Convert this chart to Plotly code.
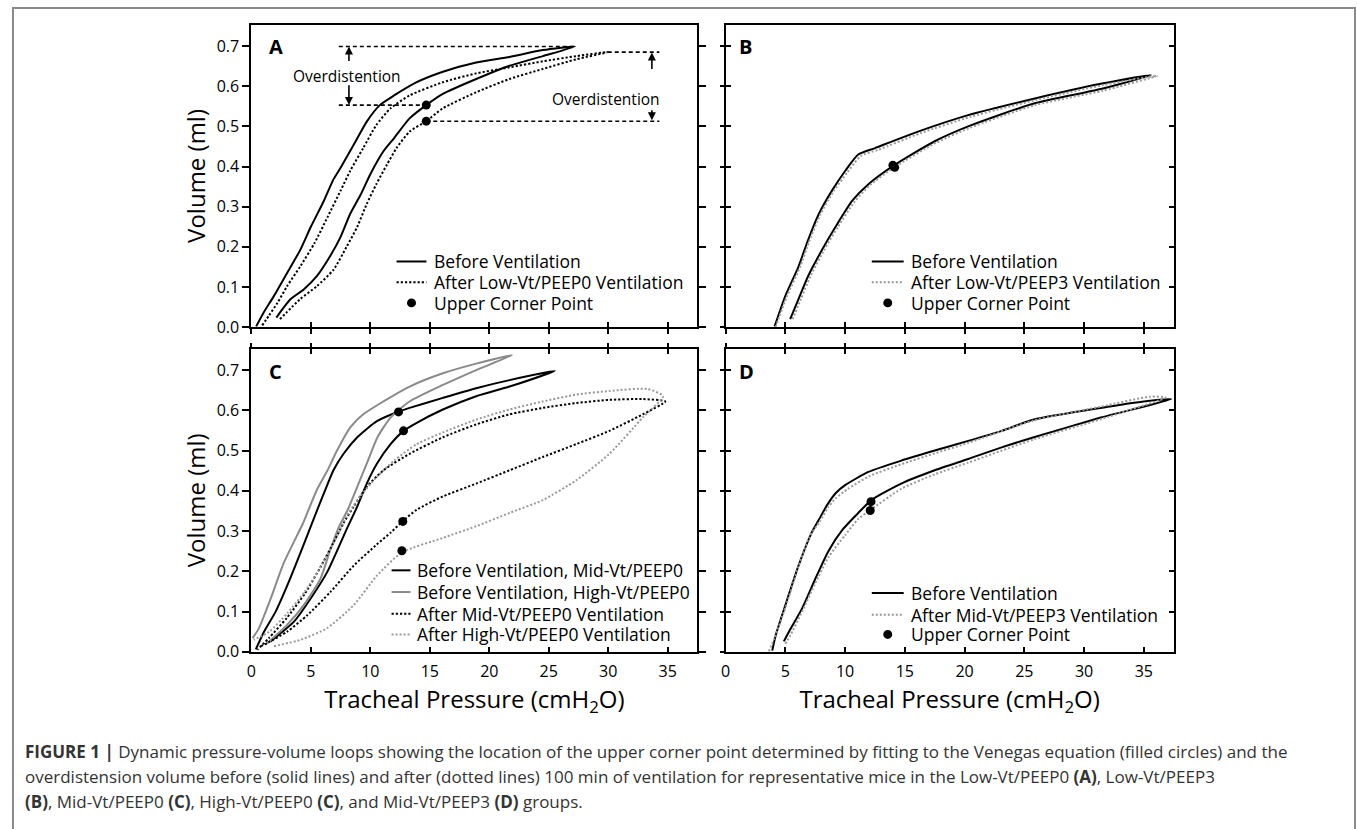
import plotly.graph_objects as go

W, H = 1357, 829

# ---------------- Panel A (Low-Vt/PEEP0) ----------------
a_before_insp_p = [2.1, 3.3, 4.4, 5.5, 6.6, 7.5, 8.3, 9.2, 10.0, 11.1, 12.0, 13.3, 14.7, 16.1, 18.9, 21.7, 24.5, 27.2]
a_before_insp_v = [0.024, 0.070, 0.094, 0.127, 0.176, 0.225, 0.282, 0.331, 0.381, 0.438, 0.471, 0.520, 0.553, 0.581, 0.618, 0.651, 0.675, 0.699]
a_before_exp_p = [27.2, 24.5, 21.7, 18.9, 16.1, 13.9, 12.0, 10.8, 9.7, 8.6, 7.5, 6.9, 6.1, 5.0, 4.1, 3.0, 1.9, 1.0, 0.4]
a_before_exp_v = [0.699, 0.690, 0.673, 0.659, 0.636, 0.610, 0.577, 0.553, 0.512, 0.454, 0.397, 0.368, 0.315, 0.250, 0.192, 0.135, 0.078, 0.035, 0.002]
a_after_insp_p = [2.4, 4.1, 5.5, 6.9, 8.0, 8.9, 9.7, 10.5, 11.4, 12.2, 13.3, 14.7, 16.1, 18.9, 21.7, 24.5, 27.3, 29.96]
a_after_insp_v = [0.020, 0.070, 0.102, 0.143, 0.200, 0.250, 0.307, 0.356, 0.405, 0.446, 0.487, 0.513, 0.545, 0.585, 0.618, 0.643, 0.667, 0.685]
a_after_exp_p = [29.96, 27.3, 24.5, 21.7, 18.9, 16.1, 13.3, 11.7, 10.5, 9.4, 8.3, 7.5, 6.4, 5.3, 4.1, 3.0, 2.2, 1.5, 0.9]
a_after_exp_v = [0.685, 0.675, 0.662, 0.647, 0.632, 0.610, 0.577, 0.545, 0.503, 0.446, 0.389, 0.340, 0.274, 0.209, 0.151, 0.102, 0.061, 0.030, 0.004]
a_ucp_p = [14.7, 14.7]
a_ucp_v = [0.553, 0.513]
# overdistention guide lines
a_od_left_top_p = [7.35, 27.2]
a_od_left_top_v = [0.699, 0.699]
a_od_left_bot_p = [7.35, 14.7]
a_od_left_bot_v = [0.553, 0.553]
a_od_right_top_p = [29.96, 34.3]
a_od_right_top_v = [0.685, 0.685]
a_od_right_bot_p = [14.7, 34.3]
a_od_right_bot_v = [0.513, 0.513]

# ---------------- Panel B (Low-Vt/PEEP3) ----------------
b_before_insp_p = [5.4, 6.1, 6.9, 8.06, 9.2, 10.6, 11.95, 14.0, 17.5, 20.3, 25.8, 31.4, 35.6]
b_before_insp_v = [0.020, 0.070, 0.127, 0.192, 0.250, 0.315, 0.356, 0.401, 0.463, 0.500, 0.557, 0.593, 0.628]
b_before_exp_p = [35.6, 31.4, 25.8, 20.3, 16.1, 12.5, 11.1, 10.0, 8.9, 7.8, 6.9, 6.1, 5.0, 4.1]
b_before_exp_v = [0.628, 0.606, 0.569, 0.528, 0.487, 0.446, 0.430, 0.389, 0.340, 0.282, 0.217, 0.151, 0.078, 0.002]
b_after_insp_p = [5.6, 6.3, 7.1, 8.2, 9.4, 10.8, 12.1, 14.1, 17.6, 20.4, 25.9, 31.6, 36.1]
b_after_insp_v = [0.020, 0.070, 0.127, 0.190, 0.250, 0.313, 0.354, 0.398, 0.459, 0.496, 0.553, 0.589, 0.626]
b_after_exp_p = [36.1, 31.6, 26.0, 20.5, 16.3, 12.8, 11.3, 10.2, 9.0, 7.9, 7.0, 6.2, 5.1, 4.2]
b_after_exp_v = [0.626, 0.603, 0.566, 0.524, 0.483, 0.442, 0.426, 0.386, 0.337, 0.279, 0.214, 0.148, 0.075, 0.002]
b_ucp_p = [14.0, 14.15]
b_ucp_v = [0.403, 0.398]

# ---------------- Panel C (Mid-Vt/PEEP0, High-Vt/PEEP0) ----------------
c_mid_before_insp_p = [1.62, 3.58, 4.97, 6.37, 7.2, 8.0, 8.9, 9.7, 10.55, 11.7, 12.8, 13.9, 16.1, 18.9, 21.7, 25.5]
c_mid_before_insp_v = [0.026, 0.075, 0.132, 0.198, 0.251, 0.304, 0.361, 0.418, 0.467, 0.516, 0.549, 0.569, 0.602, 0.635, 0.659, 0.698]
c_mid_before_exp_p = [25.5, 21.7, 18.9, 16.1, 13.3, 12.4, 10.55, 8.9, 7.75, 6.9, 6.1, 5.1, 4.14, 3.02, 2.04, 1.06, 0.37]
c_mid_before_exp_v = [0.698, 0.675, 0.655, 0.631, 0.606, 0.597, 0.573, 0.533, 0.492, 0.451, 0.394, 0.320, 0.247, 0.165, 0.100, 0.050, 0.006]
c_high_before_insp_p = [1.2, 3.0, 4.4, 5.8, 6.65, 7.35, 8.1, 8.9, 9.8, 10.6, 11.7, 13.3, 16.1, 18.9, 21.9]
c_high_before_insp_v = [0.018, 0.067, 0.116, 0.181, 0.255, 0.310, 0.353, 0.410, 0.475, 0.533, 0.582, 0.622, 0.663, 0.700, 0.737]
c_high_before_exp_p = [21.9, 18.9, 16.1, 13.3, 11.1, 9.4, 8.3, 7.2, 6.4, 5.5, 4.7, 4.35, 2.74, 1.62, 0.64, 0.1]
c_high_before_exp_v = [0.737, 0.716, 0.692, 0.659, 0.622, 0.590, 0.557, 0.500, 0.451, 0.402, 0.345, 0.320, 0.222, 0.132, 0.059, 0.034]
c_mid_after_insp_p = [0.8, 1.34, 3.0, 4.7, 6.65, 8.6, 10.55, 11.7, 12.7, 13.9, 16.1, 18.9, 21.7, 24.5, 27.3, 30.1, 32.9, 34.8]
c_mid_after_insp_v = [0.014, 0.022, 0.050, 0.091, 0.149, 0.214, 0.267, 0.296, 0.324, 0.353, 0.386, 0.418, 0.451, 0.484, 0.516, 0.549, 0.590, 0.622]
c_mid_after_exp_p = [34.8, 32.9, 30.1, 27.3, 24.5, 21.7, 18.9, 16.1, 13.3, 11.1, 9.7, 8.6, 7.75, 6.9, 5.8, 4.5, 3.0, 1.5, 0.5]
c_mid_after_exp_v = [0.622, 0.628, 0.626, 0.618, 0.606, 0.590, 0.565, 0.533, 0.492, 0.451, 0.410, 0.361, 0.320, 0.271, 0.210, 0.145, 0.085, 0.035, 0.005]
c_high_after_insp_p = [1.9, 4.14, 6.37, 8.6, 10.55, 12.65, 16.1, 18.9, 21.7, 24.5, 27.3, 30.1, 32.9, 34.6]
c_high_after_insp_v = [0.014, 0.030, 0.059, 0.116, 0.189, 0.247, 0.283, 0.312, 0.345, 0.377, 0.426, 0.492, 0.582, 0.635]
c_high_after_exp_p = [34.6, 33.3, 30.1, 27.3, 24.5, 21.7, 18.9, 16.1, 13.9, 12.0, 10.55, 9.15, 8.0, 7.2, 6.0, 4.5, 3.0, 1.5, 0.2]
c_high_after_exp_v = [0.635, 0.653, 0.648, 0.639, 0.622, 0.602, 0.577, 0.545, 0.516, 0.475, 0.435, 0.386, 0.337, 0.287, 0.220, 0.150, 0.095, 0.050, 0.030]
c_ucp_p = [12.37, 12.79, 12.73, 12.65]
c_ucp_v = [0.596, 0.549, 0.324, 0.251]

# ---------------- Panel D (Mid-Vt/PEEP3) ----------------
d_before_insp_p = [4.87, 5.3, 6.4, 7.5, 8.6, 9.8, 11.1, 12.2, 14.7, 17.5, 20.3, 23.1, 25.8, 31.4, 37.3]
d_before_insp_v = [0.026, 0.050, 0.108, 0.181, 0.250, 0.304, 0.345, 0.377, 0.418, 0.451, 0.479, 0.508, 0.533, 0.582, 0.628]
d_before_exp_p = [37.3, 35.0, 31.4, 25.8, 23.1, 20.3, 17.5, 14.7, 11.95, 10.0, 9.2, 8.5, 7.8, 7.2, 6.1, 5.0, 4.2, 3.9]
d_before_exp_v = [0.628, 0.622, 0.606, 0.577, 0.549, 0.524, 0.500, 0.475, 0.447, 0.414, 0.394, 0.365, 0.328, 0.296, 0.214, 0.116, 0.042, 0.003]
d_after_insp_p = [5.0, 5.4, 6.4, 7.5, 8.6, 10.0, 11.1, 12.1, 14.7, 17.5, 20.3, 25.8, 31.4, 36.8]
d_after_insp_v = [0.020, 0.040, 0.100, 0.170, 0.235, 0.290, 0.330, 0.352, 0.405, 0.441, 0.470, 0.528, 0.578, 0.632]
d_after_exp_p = [36.8, 35.5, 31.4, 25.8, 20.3, 17.5, 14.7, 12.0, 10.2, 9.2, 8.6, 7.9, 7.0, 6.1, 5.0, 4.1, 3.6]
d_after_exp_v = [0.632, 0.634, 0.609, 0.575, 0.519, 0.493, 0.466, 0.436, 0.404, 0.381, 0.360, 0.325, 0.285, 0.212, 0.110, 0.035, 0.000]
d_ucp_p = [12.17, 12.1]
d_ucp_v = [0.373, 0.351]

# ---------------- Axis ticks ----------------
x_tick_vals = [0, 5, 10, 15, 20, 25, 30, 35]
y_tick_vals = [0.0, 0.1, 0.2, 0.3, 0.4, 0.5, 0.6, 0.7]
y_tick_text = ["0.0", "0.1", "0.2", "0.3", "0.4", "0.5", "0.6", "0.7"]

# ---------------- Legend labels ----------------
legend_a = ["Before Ventilation", "After Low-Vt/PEEP0 Ventilation", "Upper Corner Point"]
legend_b = ["Before Ventilation", "After Low-Vt/PEEP3 Ventilation", "Upper Corner Point"]
legend_c = ["Before Ventilation, Mid-Vt/PEEP0", "Before Ventilation, High-Vt/PEEP0",
            "After Mid-Vt/PEEP0 Ventilation", "After High-Vt/PEEP0 Ventilation"]
legend_d = ["Before Ventilation", "After Mid-Vt/PEEP3 Ventilation", "Upper Corner Point"]

FONT = "Open Sans, Liberation Sans, Arial, sans-serif"
BLACK = "#000000"
GRAY_SOLID = "#8a8a8a"
GRAY_DOT = "#999999"
DOT_BLACK = "2.2px,2px"
DOT_GRAY = "2px,2px"


def px_x(px):
    return px / W


def px_y(py):
    return 1 - py / H


# plot-area pixel geometry
LEFT_X = (247.3, 695.0)
RIGHT_X = (723.3, 1173.0)
TOP_Y = (25.0, 331.6)
BOT_Y = (353.3, 660.6)

fig = go.Figure()


def loop(p_in, v_in, p_out, v_out):
    return p_in + p_out[1:], v_in + v_out[1:]


def add_line(px, py, name, color, dash, xa, ya, width=2, spline=True):
    fig.add_trace(go.Scatter(x=px, y=py, mode="lines", name=name,
                             line=dict(color=color, width=width, dash=dash,
                                       shape="spline" if spline else "linear",
                                       smoothing=0.6),
                             xaxis=xa, yaxis=ya, showlegend=False, hoverinfo="skip"))


def add_dots(px, py, name, xa, ya):
    fig.add_trace(go.Scatter(x=px, y=py, mode="markers", name=name,
                             marker=dict(color=BLACK, size=9),
                             xaxis=xa, yaxis=ya, showlegend=False, hoverinfo="skip"))


# Panel A traces
x, y = loop(a_before_insp_p, a_before_insp_v, a_before_exp_p, a_before_exp_v)
add_line(x, y, legend_a[0], BLACK, "solid", "x", "y")
x, y = loop(a_after_insp_p, a_after_insp_v, a_after_exp_p, a_after_exp_v)
add_line(x, y, legend_a[1], BLACK, DOT_BLACK, "x", "y")
for lp, lv in [(a_od_left_top_p, a_od_left_top_v), (a_od_left_bot_p, a_od_left_bot_v),
               (a_od_right_top_p, a_od_right_top_v), (a_od_right_bot_p, a_od_right_bot_v)]:
    add_line(lp, lv, "", BLACK, "4px,3px", "x", "y", width=1.6, spline=False)
add_dots(a_ucp_p, a_ucp_v, legend_a[2], "x", "y")

# Panel B traces
x, y = loop(b_before_insp_p, b_before_insp_v, b_before_exp_p, b_before_exp_v)
add_line(x, y, legend_b[0], BLACK, "solid", "x2", "y2")
x, y = loop(b_after_insp_p, b_after_insp_v, b_after_exp_p, b_after_exp_v)
add_line(x, y, legend_b[1], GRAY_DOT, DOT_GRAY, "x2", "y2")
add_dots(b_ucp_p, b_ucp_v, legend_b[2], "x2", "y2")

# Panel C traces
x, y = loop(c_mid_before_insp_p, c_mid_before_insp_v, c_mid_before_exp_p, c_mid_before_exp_v)
add_line(x, y, legend_c[0], BLACK, "solid", "x3", "y3")
x, y = loop(c_high_before_insp_p, c_high_before_insp_v, c_high_before_exp_p, c_high_before_exp_v)
add_line(x, y, legend_c[1], GRAY_SOLID, "solid", "x3", "y3")
x, y = loop(c_mid_after_insp_p, c_mid_after_insp_v, c_mid_after_exp_p, c_mid_after_exp_v)
add_line(x, y, legend_c[2], BLACK, DOT_BLACK, "x3", "y3")
x, y = loop(c_high_after_insp_p, c_high_after_insp_v, c_high_after_exp_p, c_high_after_exp_v)
add_line(x, y, legend_c[3], GRAY_DOT, DOT_GRAY, "x3", "y3")
add_dots(c_ucp_p, c_ucp_v, "Upper Corner Point", "x3", "y3")

# Panel D traces
x, y = loop(d_before_insp_p, d_before_insp_v, d_before_exp_p, d_before_exp_v)
add_line(x, y, legend_d[0], BLACK, "solid", "x4", "y4")
x, y = loop(d_after_insp_p, d_after_insp_v, d_after_exp_p, d_after_exp_v)
add_line(x, y, legend_d[1], GRAY_DOT, DOT_GRAY, "x4", "y4")
add_dots(d_ucp_p, d_ucp_v, legend_d[2], "x4", "y4")

# dummy traces so overlay axes (used for crossing tick marks) are drawn
for xa, ya in [("x5", "y"), ("x6", "y2"), ("x7", "y3"), ("x8", "y4"),
               ("x2", "y6"), ("x4", "y8")]:
    fig.add_trace(go.Scatter(x=[None], y=[None], xaxis=xa, yaxis=ya,
                             showlegend=False, hoverinfo="skip", mode="markers"))

XR = [0, 37.5]
YR = [0, 0.7533]
tickfont = dict(family=FONT, size=16, color=BLACK)
titlefont = dict(family=FONT, size=24, color=BLACK)
common_line = dict(showline=True, linecolor=BLACK, linewidth=2, tickcolor=BLACK,
                   tickwidth=2, showgrid=False, zeroline=False, fixedrange=True)


def xaxis(dom, anchor, ticks, mirror, labels, title=None):
    d = dict(domain=dom, anchor=anchor, range=XR, tickmode="array", tickvals=x_tick_vals,
             ticks=ticks, ticklen=5, mirror=mirror, showticklabels=labels,
             tickfont=tickfont, ticklabelstandoff=4, **common_line)
    if title:
        d["title"] = dict(text=title, font=titlefont, standoff=6)
    return d


def yaxis(dom, anchor, ticks, mirror, labels, ticklen=6, title=None):
    d = dict(domain=dom, anchor=anchor, range=YR, tickmode="array", tickvals=y_tick_vals,
             ticktext=y_tick_text, ticks=ticks, ticklen=ticklen, mirror=mirror,
             showticklabels=labels, tickfont=tickfont, **common_line)
    if title:
        d["title"] = dict(text=title, font=titlefont, standoff=4)
    return d


def overlay_x(over, anchor, side, ticks):
    return dict(overlaying=over, anchor=anchor, side=side, range=XR, tickmode="array",
                tickvals=x_tick_vals, ticks=ticks, ticklen=5, tickwidth=2, tickcolor=BLACK,
                showline=False, showticklabels=False, showgrid=False, zeroline=False,
                fixedrange=True)


def overlay_y(over, anchor, side, ticks):
    return dict(overlaying=over, anchor=anchor, side=side, range=YR, tickmode="array",
                tickvals=y_tick_vals, ticks=ticks, ticklen=5, tickwidth=2, tickcolor=BLACK,
                showline=False, showticklabels=False, showgrid=False, zeroline=False,
                fixedrange=True)


dxL = [px_x(LEFT_X[0]), px_x(LEFT_X[1])]
dxR = [px_x(RIGHT_X[0]), px_x(RIGHT_X[1])]
dyT = [px_y(TOP_Y[1]), px_y(TOP_Y[0])]
dyB = [px_y(BOT_Y[1]), px_y(BOT_Y[0])]

XTITLE = "Tracheal Pressure (cmH<sub>2</sub>O)"

fig.update_layout(
    width=W, height=H,
    margin=dict(l=0, r=0, t=0, b=0),
    paper_bgcolor="white", plot_bgcolor="white",
    font=dict(family=FONT, color=BLACK),
    showlegend=False,
    xaxis=xaxis(dxL, "y", "outside", True, False),
    yaxis=yaxis(dyT, "x", "outside", "ticks", True, ticklen=7, title="Volume (ml)"),
    xaxis2=xaxis(dxR, "y2", "outside", True, False),
    yaxis2=yaxis(dyT, "x2", "inside", "ticks", False, ticklen=5),
    xaxis3=xaxis(dxL, "y3", "inside", "ticks", True, title=XTITLE),
    yaxis3=yaxis(dyB, "x3", "outside", "ticks", True, ticklen=7, title="Volume (ml)"),
    xaxis4=xaxis(dxR, "y4", "inside", "ticks", True, title=XTITLE),
    yaxis4=yaxis(dyB, "x4", "inside", "ticks", False, ticklen=5),
    # overlays producing tick marks that cross the axis line
    xaxis5=overlay_x("x", "y", "bottom", "inside"),
    xaxis6=overlay_x("x2", "y2", "bottom", "inside"),
    xaxis7=overlay_x("x3", "y3", "top", "outside"),
    xaxis8=overlay_x("x4", "y4", "top", "outside"),
    yaxis6=overlay_y("y2", "x2", "left", "outside"),
    yaxis8=overlay_y("y4", "x4", "left", "outside"),
)

annotations = []
shapes = []

# ---------------- per-panel keys (drawn as text + sample marks) ----------------
leg_font = dict(family=FONT, size=17.5, color=BLACK)


def key_block(labels, styles, s_x0, s_x1, text_x, rows):
    for label, style, yp in zip(labels, styles, rows):
        kind, color, dash = style
        if kind == "line":
            shapes.append(dict(type="line", xref="paper", yref="paper",
                               x0=px_x(s_x0), x1=px_x(s_x1), y0=px_y(yp), y1=px_y(yp),
                               line=dict(color=color, width=2, dash=dash)))
        else:
            cx = (s_x0 + s_x1) / 2.0
            shapes.append(dict(type="circle", xref="paper", yref="paper",
                               x0=px_x(cx - 4.5), x1=px_x(cx + 4.5),
                               y0=px_y(yp + 4.5), y1=px_y(yp - 4.5),
                               fillcolor=BLACK, line=dict(color=BLACK, width=0)))
        annotations.append(dict(text=label, x=px_x(text_x), y=px_y(yp), xref="paper",
                                yref="paper", xanchor="left", yanchor="middle",
                                showarrow=False, font=leg_font, borderpad=0))


key_block(legend_a, [("line", BLACK, "solid"), ("line", BLACK, DOT_BLACK), ("dot", BLACK, None)],
          393, 423, 430, [265, 286, 307])
key_block(legend_b, [("line", BLACK, "solid"), ("line", GRAY_DOT, DOT_GRAY), ("dot", BLACK, None)],
          870, 902, 908, [265, 286, 307])
key_block(legend_c, [("line", BLACK, "solid"), ("line", GRAY_SOLID, "solid"),
                     ("line", BLACK, DOT_BLACK), ("line", GRAY_DOT, DOT_GRAY)],
          388, 407, 413, [578, 600, 622, 643])
key_block(legend_d, [("line", BLACK, "solid"), ("line", GRAY_DOT, DOT_GRAY), ("dot", BLACK, None)],
          870, 902, 908, [601, 623, 643])

# panel letters
for letter, xp, yp in [("A", 264, 47), ("B", 736, 47), ("C", 264, 376), ("D", 736, 376)]:
    annotations.append(dict(text="<b>%s</b>" % letter, x=px_x(xp), y=px_y(yp), xref="paper",
                            yref="paper", xanchor="left", yanchor="middle", showarrow=False,
                            font=dict(family=FONT, size=20, color=BLACK), borderpad=0))

# overdistention labels and arrows (panel A)
od_font = dict(family=FONT, size=15.5, color=BLACK)
annotations.append(dict(text="Overdistention", x=8.0, y=0.626, xref="x", yref="y",
                        showarrow=False, font=od_font))
annotations.append(dict(text="Overdistention", x=29.85, y=0.569, xref="x", yref="y",
                        showarrow=False, font=od_font))
for xa, y_from, y_to in [(8.2, 0.659, 0.699), (8.2, 0.606, 0.553),
                         (33.67, 0.639, 0.684), (33.67, 0.544, 0.515)]:
    annotations.append(dict(text="", x=xa, y=y_to, ax=xa, ay=y_from, xref="x", yref="y",
                            axref="x", ayref="y", showarrow=True, arrowhead=2, arrowsize=1,
                            arrowwidth=1.6, arrowcolor=BLACK, standoff=0, startstandoff=0))

# caption
cap_font = dict(family=FONT, size=17, color="#333333")
caption_lines = [
    "<b>FIGURE 1 |</b> Dynamic pressure-volume loops showing the location of the upper corner point determined by fitting to the Venegas equation (filled circles) and the",
    "overdistension volume before (solid lines) and after (dotted lines) 100 min of ventilation for representative mice in the Low-Vt/PEEP0 <b>(A)</b>, Low-Vt/PEEP3",
    "<b>(B)</b>, Mid-Vt/PEEP0 <b>(C)</b>, High-Vt/PEEP0 <b>(C)</b>, and Mid-Vt/PEEP3 <b>(D)</b> groups.",
]
for i, line in enumerate(caption_lines):
    annotations.append(dict(text=line, x=px_x(19), y=px_y(762 + 25 * i), xref="paper",
                            yref="paper", xanchor="left", yanchor="middle", showarrow=False,
                            font=cap_font, align="left", borderpad=0))

# outer frame of the figure panel
shapes.append(dict(type="rect", xref="paper", yref="paper", x0=px_x(8), x1=px_x(1355),
                   y0=-0.05, y1=px_y(8), line=dict(color="#8a8a8a", width=2), layer="below"))

fig.update_layout(annotations=annotations, shapes=shapes)

fig.write_html("out.html")
